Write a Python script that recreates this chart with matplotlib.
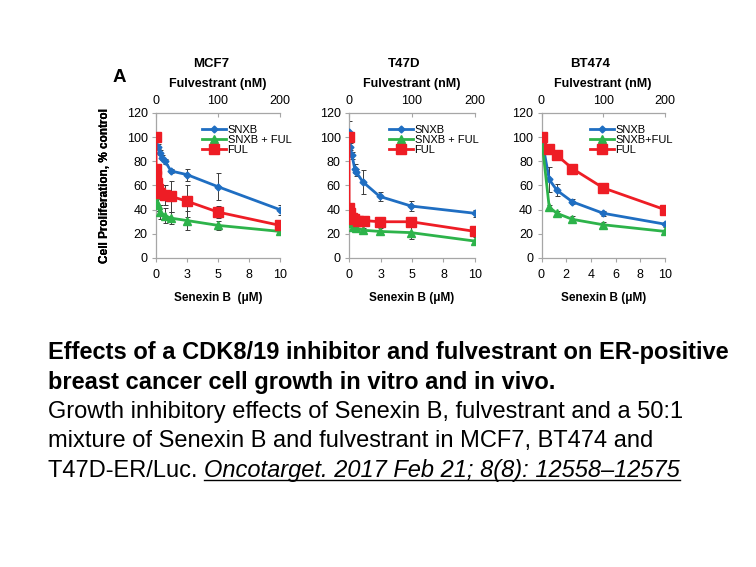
import matplotlib
matplotlib.use('Agg')
import matplotlib.pyplot as plt
from matplotlib.lines import Line2D

plt.rcParams['font.family'] = ['Liberation Sans', 'DejaVu Sans']

W, H = 756, 567

# ---- data ----
mcf7_snxb_x = [0, 0.13, 0.32, 0.51, 0.73, 1.21, 2.5, 5, 10]
mcf7_snxb_y = [99, 92, 87, 83, 80, 72, 69, 59, 40]
mcf7_snxb_e = [3, 2, 2, 2, 2, 2, 5, 11, 4]
mcf7_comb_x = [0, 0.05, 0.13, 0.32, 0.73, 1.21, 2.5, 5, 10]
mcf7_comb_y = [60, 52, 44, 38, 35, 33, 31, 27, 22]
mcf7_comb_e = [3, 3, 5, 6, 6, 5, 8, 4, 3]
mcf7_ful_x = [0, 0.01, 0.03, 0.06, 0.13, 0.32, 0.73, 1.21, 2.5, 5, 10]
mcf7_ful_y = [100, 74, 68, 62, 57, 54, 52, 51, 47, 38, 27]
mcf7_ful_e = [3, 3, 3, 3, 3, 3, 8, 13, 13, 5, 3]

t47d_snxb_x = [0, 0.08, 0.24, 0.45, 0.58, 1.1, 2.43, 4.93, 10]
t47d_snxb_y = [104, 92, 85, 74, 71, 63, 51, 43, 37]
t47d_snxb_e = [9, 3, 3, 4, 3, 10, 4, 4, 3]
t47d_comb_x = [0, 0.3, 0.58, 1.1, 2.43, 4.93, 10]
t47d_comb_y = [29, 26, 25, 23, 22, 21, 14]
t47d_comb_e = [2, 2, 2, 2, 3, 5, 3]
t47d_ful_x = [0, 0.01, 0.05, 0.2, 0.4, 0.7, 1.2, 2.43, 4.93, 10]
t47d_ful_y = [100, 41, 37, 33, 32, 31, 31, 30, 30, 22]
t47d_ful_e = [2, 2, 2, 2, 2, 2, 2, 2, 2, 2]

bt_x = [0, 0.625, 1.25, 2.5, 5, 10]
bt_snxb_y = [100, 65, 56, 46.5, 37, 28]
bt_snxb_e = [1, 10, 5, 2, 2, 2]
bt_comb_y = [100, 42, 37, 32, 27.5, 22]
bt_comb_e = [1, 2, 2, 3, 2, 1]
bt_ful_y = [100, 90, 85, 74, 58, 40]
bt_ful_e = [1, 2, 1, 1, 2, 3]

cell_lines = ['MCF7', 'T47D', 'BT474']
labels_a = ['SNXB', 'SNXB + FUL', 'FUL']
labels_b = ['SNXB', 'SNXB+FUL', 'FUL']
xlabels = ['Senexin B  (μM)', 'Senexin B (μM)', 'Senexin B (μM)']
tick_ab = [0, 2.5, 5, 7.5, 10]
tick_ab_lbl = ['0', '3', '5', '8', '10']
tick_c = [0, 2, 4, 6, 8, 10]
top_ticks = [0, 100, 200]

caption = [
    ('Effects of a CDK8/19 inhibitor and fulvestrant on ER-positive', 'bold'),
    ('breast cancer cell growth in vitro and in vivo.', 'bold'),
    ('Growth inhibitory effects of Senexin B, fulvestrant and a 50:1', 'normal'),
    ('mixture of Senexin B and fulvestrant in MCF7, BT474 and', 'normal'),
]
cap_last = 'T47D-ER/Luc. '
cap_cite = 'Oncotarget. 2017 Feb 21; 8(8): 12558\u201312575'

blue, green, red = '#1F6EC2', '#2DB34A', '#EE1D25'
grey = '#A6A6A6'

fig = plt.figure(figsize=(W / 100, H / 100), dpi=100)

def px(x, y):
    return x / W, 1 - y / H

# axes in pixel boxes: left, top, right, bottom
boxes = [(156, 113, 280, 258), (349, 113, 475, 258), (541.5, 113, 665, 258)]
leg_x = [202, 389, 590]

panels = [
    [(mcf7_snxb_x, mcf7_snxb_y, mcf7_snxb_e), (mcf7_comb_x, mcf7_comb_y, mcf7_comb_e), (mcf7_ful_x, mcf7_ful_y, mcf7_ful_e)],
    [(t47d_snxb_x, t47d_snxb_y, t47d_snxb_e), (t47d_comb_x, t47d_comb_y, t47d_comb_e), (t47d_ful_x, t47d_ful_y, t47d_ful_e)],
    [(bt_x, bt_snxb_y, bt_snxb_e), (bt_x, bt_comb_y, bt_comb_e), (bt_x, bt_ful_y, bt_ful_e)],
]
title_x = [211.5, 404, 590]

for i, (l, t, r, b) in enumerate(boxes):
    ax = fig.add_axes([l / W, 1 - b / H, (r - l) / W, (b - t) / H])
    styles = [(blue, 'D', 3.5), (green, '^', 6), (red, 's', 7.5)]
    labs = labels_b if i == 2 else labels_a
    for (xs, ys, es), (c, m, ms), lab in zip(panels[i], styles, labs):
        ax.errorbar(xs, ys, yerr=es, fmt='none', ecolor='#3a3a3a', elinewidth=0.7, capsize=1.8, capthick=0.7, zorder=2)
        ax.plot(xs, ys, color=c, marker=m, ms=ms, lw=2, label=lab, zorder=3)
    ax.set_xlim(0, 10)
    ax.set_ylim(0, 120)
    ax.set_yticks(range(0, 121, 20))
    if i == 2:
        ax.set_xticks(tick_c)
    else:
        ax.set_xticks(tick_ab)
        ax.set_xticklabels(tick_ab_lbl)
    for s in ['top', 'right']:
        ax.spines[s].set_visible(False)
    for s in ['left', 'bottom']:
        ax.spines[s].set_color(grey)
        ax.spines[s].set_linewidth(0.9)
    ax.tick_params(direction='out', length=3, width=0.8, color=grey, labelsize=9)
    ax.tick_params(axis='x', pad=5)
    ax.tick_params(axis='y', pad=3)
    ax.set_xlabel(xlabels[i], fontsize=8.5, fontweight='bold')
    ax.xaxis.set_label_coords(0.5, (b - 292) / (b - t))
    ax.set_ylabel('Cell Proliferation, % control', fontsize=8.5, fontweight='bold')
    ax.yaxis.set_label_coords((111 - l) / (r - l), 0.5)
    ax.legend(loc='center left', bbox_to_anchor=((leg_x[i] - l) / (r - l), (b - 140) / (b - t)),
              frameon=False, fontsize=8, handlelength=2.2, handletextpad=0.1, labelspacing=0.03,
              borderpad=0, borderaxespad=0)

    top = ax.twiny()
    top.set_xlim(0, 200)
    top.set_xticks(top_ticks)
    for s in ['bottom', 'right', 'left']:
        top.spines[s].set_visible(False)
    top.spines['top'].set_color(grey)
    top.spines['top'].set_linewidth(0.9)
    top.tick_params(direction='in', length=3, width=0.8, color=grey, labelsize=9, pad=4)
    top.set_xlabel('Fulvestrant (nM)', fontsize=9, fontweight='bold')
    top.xaxis.set_label_coords(0.5, (b - 87) / (b - t))

    fig.text(*px(title_x[i], 64), cell_lines[i], fontsize=9.5, fontweight='bold', ha='center', va='center')

fig.text(*px(119.5, 78), 'A', fontsize=13.5, fontweight='bold', ha='center', va='center')

# caption
cap_x = 48 / W
cap_fs = 17
cap_y = [353, 382.5, 412, 441.5, 471]
for (txt, wt), yy in zip(caption, cap_y):
    fig.text(cap_x, 1 - yy / H, txt, fontsize=cap_fs, fontweight=wt, va='center')
t1 = fig.text(cap_x, 1 - cap_y[4] / H, cap_last, fontsize=cap_fs, va='center')
fig.canvas.draw()
bb = t1.get_window_extent()
t2 = fig.text(bb.x1 / W, 1 - cap_y[4] / H, cap_cite, fontsize=cap_fs, style='italic', va='center')
fig.canvas.draw()
bb2 = t2.get_window_extent()
uy = (bb2.y0 + 3) / H
fig.add_artist(Line2D([bb2.x0 / W, bb2.x1 / W], [uy, uy], color='black', lw=1))

fig.savefig('out.png', dpi=100)
